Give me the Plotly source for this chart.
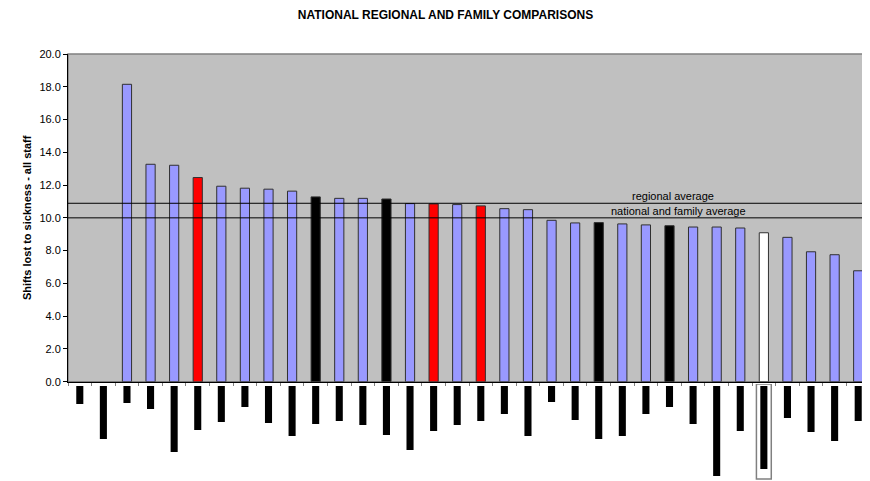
import plotly.graph_objects as go

# ---- data ----
categories = [f"Unit {i:02d}" for i in range(1, 35)]
shifts_lost = [None, None, 18.15, 13.27, 13.21, 12.46, 11.93, 11.81, 11.75, 11.63,
               11.28, 11.19, 11.19, 11.15, 10.87, 10.85, 10.81, 10.73, 10.56, 10.50,
               9.85, 9.69, 9.71, 9.63, 9.57, 9.52, 9.44, 9.44, 9.38, 9.09,
               8.81, 7.93, 7.75, 6.77]
# b = peer unit, r = region, k = family, w = own unit
group = ["b", "b", "b", "b", "b", "r", "b", "b", "b", "b",
         "k", "b", "b", "k", "b", "r", "b", "r", "b", "b",
         "b", "b", "k", "b", "b", "k", "b", "b", "b", "w",
         "b", "b", "b", "b"]
# lengths (px) of the redacted (blacked-out) category labels
label_len = [18, 53, 17, 23, 66, 44, 36, 21, 37, 50,
             38, 35, 39, 49, 64, 45, 39, 35, 28, 50,
             16, 34, 53, 50, 28, 21, 38, 90, 45, 83,
             32, 46, 55, 35]
REGIONAL_AVG = 10.89
NATIONAL_AVG = 10.0

COLORS = {"b": "#9999FF", "r": "#FF0000", "k": "#000000", "w": "#FFFFFF"}
FONT = "Arial, Liberation Sans, sans-serif"

own_idx = group.index("w")
frame_vals = [(-95 if i == own_idx else None) for i in range(len(categories))]

fig = go.Figure()
fig.add_trace(go.Bar(
    x=categories, y=shifts_lost, width=0.39,
    marker=dict(color=[COLORS[g] for g in group], line=dict(color="#303030", width=1)),
    yaxis="y", showlegend=False, hoverinfo="x+y"))
fig.add_trace(go.Bar(
    x=categories, y=frame_vals, width=0.63,
    marker=dict(color="#FFFFFF", line=dict(color="#808080", width=1.5)),
    yaxis="y2", showlegend=False, hoverinfo="skip"))
fig.add_trace(go.Bar(
    x=categories, y=[-v for v in label_len], base=-2, width=0.3,
    marker=dict(color="#000000", line=dict(width=0)),
    yaxis="y2", showlegend=False, hoverinfo="skip"))

W, H = 862, 473          # page body has an 8px margin
TOP = 46
PLOT_H = H - TOP
main_bottom = (H - 373.7) / PLOT_H
lab_top = (H - 376) / PLOT_H

fig.update_layout(
    width=W, height=H,
    margin=dict(l=60, r=0, t=TOP, b=0, autoexpand=False),
    paper_bgcolor="white", plot_bgcolor="white",
    barmode="overlay",
    font=dict(family=FONT, size=11, color="black"),
    title=dict(text="<b>NATIONAL REGIONAL AND FAMILY COMPARISONS</b>",
               x=0.5075, xanchor="center", y=1 - 6.5 / H, yanchor="middle",
               font=dict(size=12, family=FONT)),
    xaxis=dict(type="category", anchor="y", showticklabels=False,
               showline=True, linecolor="black", linewidth=1,
               ticks="outside", tickson="boundaries", ticklen=3,
               tickcolor="#808080", showgrid=False, zeroline=False,
               range=[-0.5, len(categories) - 0.5]),
    yaxis=dict(domain=[main_bottom, 1], range=[0, 20], dtick=2, tickformat=".1f",
               showline=True, linecolor="black", linewidth=1,
               ticks="outside", ticklen=4, tickcolor="black",
               showgrid=False, zeroline=False,
               tickfont=dict(size=11, family=FONT),
               title=dict(text="<b>Shifts lost to sickness - all staff</b>",
                          font=dict(size=11, family=FONT), standoff=5)),
    yaxis2=dict(domain=[0, lab_top], range=[-(H - 376), 0], visible=False,
                fixedrange=True),
    shapes=[
        dict(type="rect", xref="paper", yref="y domain", x0=0, x1=1, y0=0, y1=1,
             fillcolor="#C0C0C0", line=dict(color="#808080", width=1.5), layer="below"),
        dict(type="line", xref="paper", yref="y", x0=0, x1=1,
             y0=REGIONAL_AVG, y1=REGIONAL_AVG, line=dict(color="black", width=1), layer="above"),
        dict(type="line", xref="paper", yref="y", x0=0, x1=1,
             y0=NATIONAL_AVG, y1=NATIONAL_AVG, line=dict(color="black", width=1), layer="above"),
    ],
    annotations=[
        dict(text="regional average", xref="paper", yref="y", x=0.754, y=REGIONAL_AVG,
             xanchor="center", yanchor="bottom", showarrow=False, borderpad=0,
             font=dict(size=11, family=FONT, color="black")),
        dict(text="national and family average", xref="paper", yref="y", x=0.761,
             y=NATIONAL_AVG, xanchor="center", yanchor="bottom", showarrow=False,
             borderpad=0, font=dict(size=11, family=FONT, color="black")),
    ],
)

fig.write_html("out.html")
